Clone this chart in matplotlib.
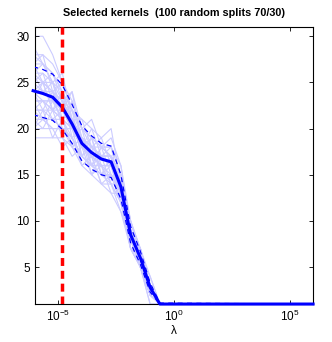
import numpy as np
import matplotlib
matplotlib.use('Agg')
import matplotlib.pyplot as plt
from matplotlib.ticker import NullLocator

plt.rcParams['font.family'] = ['Liberation Sans', 'DejaVu Sans']

# log10(lambda) grid where the curves bend
log_lam = [-6.06, -5.64, -5.22, -4.80, -4.38, -3.96, -3.54, -3.12,
           -2.70, -2.28, -1.86, -1.44, -1.02, -0.60, 6.0]

mean_k = [24.1, 23.8, 23.4, 22.3, 20.5, 18.4, 17.4, 16.7,
          16.4, 13.7, 8.5, 6.0, 2.8, 1.0, 1.0]
upper_k = [26.7, 26.4, 25.9, 24.7, 22.6, 20.3, 19.2, 18.4,
           18.1, 15.0, 9.4, 6.7, 3.3, 1.1, 1.0]
lower_k = [21.5, 21.2, 20.9, 19.9, 18.4, 16.5, 15.6, 15.0,
           14.7, 12.4, 7.6, 5.3, 2.3, 1.0, 1.0]

# a sample of the individual random splits (number of selected kernels)
splits = [
    [30, 30, 28, 25, 22, 20, 19, 18, 18, 15, 9, 6, 3, 1, 1],
    [28, 28, 27, 25, 23, 20, 19, 18, 17, 14, 9, 7, 3, 1, 1],
    [27, 27, 26, 24, 22, 19, 18, 17, 17, 14, 9, 6, 3, 1, 1],
    [26, 26, 25, 24, 21, 19, 18, 17, 17, 15, 10, 7, 3, 1, 1],
    [25, 25, 25, 23, 21, 19, 17, 17, 16, 14, 9, 6, 3, 1, 1],
    [25, 24, 24, 23, 20, 18, 17, 16, 16, 13, 8, 6, 2, 1, 1],
    [24, 24, 24, 22, 21, 18, 18, 17, 17, 14, 8, 6, 3, 1, 1],
    [24, 23, 23, 22, 20, 18, 17, 16, 16, 13, 8, 6, 3, 1, 1],
    [23, 23, 23, 22, 20, 18, 17, 17, 17, 14, 9, 6, 3, 1, 1],
    [23, 23, 22, 21, 20, 18, 17, 16, 16, 13, 8, 5, 1, 1, 1],
    [22, 22, 22, 21, 19, 17, 16, 16, 16, 13, 8, 5, 2, 1, 1],
    [22, 22, 21, 21, 20, 18, 17, 16, 15, 13, 8, 6, 3, 1, 1],
    [21, 21, 21, 20, 19, 17, 16, 15, 15, 13, 8, 5, 2, 1, 1],
    [20, 20, 20, 20, 19, 17, 16, 15, 15, 12, 8, 6, 3, 1, 1],
    [19, 19, 19, 19, 18, 16, 15, 14, 13, 11, 7, 5, 2, 1, 1],
    [24, 24, 23, 22, 21, 19, 18, 17, 17, 14, 9, 6, 3, 1, 1],
    [26, 25, 24, 22, 20, 18, 17, 16, 16, 13, 8, 6, 3, 1, 1],
    [23, 23, 22, 22, 21, 19, 18, 17, 16, 13, 8, 6, 2, 1, 1],
    [25, 25, 24, 23, 22, 20, 18, 17, 17, 15, 9, 7, 3, 1, 1],
    [22, 21, 21, 20, 19, 17, 16, 15, 15, 12, 7, 5, 1, 1, 1],
    [28, 27, 26, 24, 21, 19, 18, 18, 17, 14, 9, 6, 2, 1, 1],
    [21, 21, 20, 20, 18, 17, 16, 15, 14, 12, 7, 5, 2, 1, 1],
    [27, 25, 26, 23, 24, 20, 21, 18, 19, 16, 10, 7, 4, 1, 1],
    [20, 22, 19, 21, 18, 19, 15, 17, 14, 12, 8, 6, 2, 1, 1],
    [26, 24, 25, 21, 22, 17, 19, 15, 17, 13, 9, 5, 3, 1, 1],
    [23, 25, 22, 24, 19, 20, 16, 18, 15, 14, 7, 6, 2, 1, 1],
    [29, 27, 25, 26, 21, 21, 18, 19, 16, 15, 9, 7, 3, 1, 1],
    [22, 23, 21, 22, 20, 16, 17, 14, 15, 12, 8, 5, 2, 1, 1],
    [25, 26, 23, 21, 23, 19, 16, 18, 18, 13, 10, 6, 3, 1, 1],
    [24, 22, 24, 20, 20, 18, 19, 16, 14, 14, 8, 7, 3, 1, 1],
    [21, 20, 22, 19, 17, 18, 15, 16, 13, 13, 7, 6, 2, 1, 1],
    [27, 28, 24, 25, 22, 21, 20, 17, 18, 16, 9, 6, 4, 1, 1],
    [23, 21, 23, 21, 18, 19, 16, 17, 16, 12, 9, 5, 2, 1, 1],
    [26, 27, 25, 22, 24, 18, 20, 19, 20, 14, 8, 7, 3, 1, 1],
    [20, 21, 20, 18, 19, 16, 17, 14, 14, 11, 8, 5, 2, 1, 1],
    [24, 25, 22, 23, 21, 17, 18, 15, 16, 15, 10, 6, 3, 1, 1],
]

selected_lambda = 1.6e-5

lam = 10.0 ** np.array(log_lam)

fig = plt.figure(figsize=(3.32, 3.42), dpi=100)
ax = fig.add_axes([0.104, 0.111, 0.839, 0.810])

for s in splits:
    ax.plot(lam, s, color=(0.80, 0.80, 1.0), lw=0.8, zorder=1)

ax.plot(lam, upper_k, color='blue', lw=0.9, dashes=(4, 3.5), zorder=3)
ax.plot(lam, lower_k, color='blue', lw=0.9, dashes=(4, 3.5), zorder=3)
ax.plot(lam, mean_k, color='blue', lw=2.2, zorder=4, clip_on=False)
ax.axvline(selected_lambda, color='red', lw=2.5, dashes=(2.3, 1.4), zorder=5)

ax.set_xscale('log')
ax.set_xlim(1e-6, 1e6)
ax.set_ylim(1, 31)
ax.set_xticks([1e-5, 1e0, 1e5])
ax.xaxis.set_minor_locator(NullLocator())
ax.set_yticks([5, 10, 15, 20, 25, 30])
ax.tick_params(direction='in', top=True, right=True, labelsize=8.5,
               length=3, width=0.6)
for sp in ax.spines.values():
    sp.set_linewidth(0.8)

ax.set_xlabel('λ', fontsize=8.5, labelpad=1)
ax.set_title('Selected kernels  (100 random splits 70/30)', fontsize=7.8,
             fontweight='bold', pad=8)

plt.savefig('out.png', dpi=100)
